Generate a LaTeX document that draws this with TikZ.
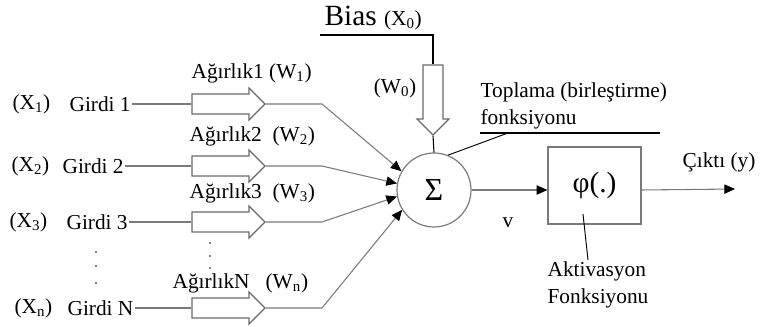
\documentclass[tikz,border=0pt]{standalone}
\usepackage{fontspec}
\setmainfont{Liberation Serif}
\usetikzlibrary{arrows.meta,shapes.arrows}
\definecolor{LineGray}{HTML}{7A7A7A}
\definecolor{EdgeGray}{HTML}{6A6A6A}

\begin{document}
\begin{tikzpicture}[x=0.75pt,y=-0.75pt,
      txt/.style={inner sep=1pt,font=\fontsize{16}{20}\selectfont},
      weight/.style={single arrow,draw=EdgeGray,line width=0.9pt,fill=white,
                     minimum height=54.75pt,minimum width=0pt,
                     single arrow head extend=4.5pt,inner xsep=0pt,inner ysep=7pt},
      conn/.style={draw=LineGray,line width=0.8pt},
      arr/.style={-{Triangle[length=8pt,width=7pt,color=black]}},
    ]
    \useasboundingbox (0,0) rectangle (762,327);

    % inputs
    \node[txt,anchor=west] (x1) at (11,104)  {(X\textsubscript{1})};
    \node[txt,anchor=west] (g1) at (68,104)  {Girdi 1};
    \node[txt,anchor=west] (x2) at (10,166)  {(X\textsubscript{2})};
    \node[txt,anchor=west] (g2) at (61,166)  {Girdi 2};
    \node[txt,anchor=west] (x3) at (8,222)   {(X\textsubscript{3})};
    \node[txt,anchor=west] (g3) at (65,222)  {Girdi 3};
    \node[txt,anchor=west] (xn) at (13,308)  {(X\textsubscript{n})};
    \node[txt,anchor=west] (gn) at (66,308)  {Girdi N};

    % weights
    \node[weight] (w1) at (223.5,104) {};
    \node[weight] (w2) at (223.5,166) {};
    \node[weight] (w3) at (223.5,222) {};
    \node[weight] (wn) at (223.5,308) {};
    \node[txt,anchor=west] (l1) at (190,73)  {Ağırlık1 (W\textsubscript{1})};
    \node[txt,anchor=west] (l2) at (188,136) {Ağırlık2\ \ (W\textsubscript{2})};
    \node[txt,anchor=west] (l3) at (188,193) {Ağırlık3\ \ (W\textsubscript{3})};
    \node[txt,anchor=west] (ln) at (171,283) {AğırlıkN\ \ \ (W\textsubscript{n})};

    \foreach \y in {252,266,283} \fill (96,\y) circle[radius=0.6pt];
    \foreach \y in {243,256,268} \fill (210,\y) circle[radius=0.6pt];

    % summing junction
    \node[circle,draw=LineGray,line width=0.9pt,minimum size=55.5pt,inner sep=0pt,
          font=\fontsize{24}{24}\selectfont] (sum) at (434,190) {Σ};
    \coordinate (kink) at (322,0);

    \foreach \i/\a in {1/150,2/170,3/190,n/212}{
      \draw[conn] (g\i.east) -- (w\i.tail);
      \draw[conn,arr] (w\i.tip) -- (w\i.tip -| kink) -- (sum.\a);
    }

    % bias
    \node[inner sep=1pt,anchor=west] (bias) at (323,18)
         {\fontsize{22}{24}\selectfont Bias \fontsize{16}{18}\selectfont(X\textsubscript{0})};
    \node[weight,shape border rotate=270,minimum height=52.5pt,
          inner xsep=7pt,inner ysep=0pt] (w0) at (433,95) {};
    \node[txt] (w0l) at (395,88) {(W\textsubscript{0})};
    \coordinate (bl) at (320,35);
    \coordinate (bk) at (433,35);
    \draw[line width=0.8pt] (bl) -- (bk) -- (w0.tail);
    \draw[line width=0.8pt] (w0.tip) -- (sum.north);

    \node[txt,anchor=north west,align=left] (topl) at (479,81)
         {Toplama (birleştirme)\\fonksiyonu};
    \coordinate (tl) at (480,133);
    \coordinate (tr) at (660,133);
    \coordinate (tp) at (508,133);
    \draw[line width=0.8pt] (tl) -- (tr);
    \draw[line width=0.7pt] (tp) -- (sum.68);

    % activation
    \node[draw=LineGray,line width=1pt,minimum width=69.75pt,minimum height=57.75pt,
          font=\fontsize{22}{22}\selectfont] (phi) at (594.5,185.5) {φ(.)};
    \node[txt] (v) at (508,223) {v};
    \draw[conn,arr] (sum.east) -- (sum.east -| phi.west);
    \coordinate (yout) at (735,189);
    \draw[conn,arr] (phi.east |- sum.east) -- (yout);
    \node[txt,anchor=west] (cikti) at (681,162) {Çıktı (y)};

    \coordinate (aktp) at (583,214);
    \coordinate (aktq) at (588,260);
    \draw[line width=0.7pt] (aktp) -- (aktq);
    \node[txt,anchor=north west,align=left] (akt) at (546,260) {Aktivasyon\\Fonksiyonu};
  \end{tikzpicture}
\end{document}
